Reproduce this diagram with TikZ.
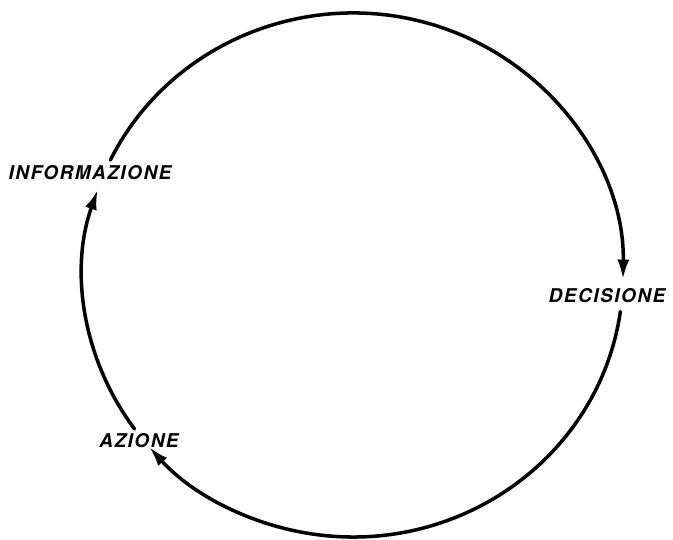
\documentclass[tikz,border=0pt]{standalone}
\usepackage{fontspec}
\newfontfamily\handfont[LetterSpace=8.0]{TeX Gyre Heros}
\usetikzlibrary{calc,arrows.meta}
\tikzset{
  cycarc/.style={line width=2pt,line cap=round},
  cyctip/.style={-{Latex[length=4mm,width=2.4mm]}},
  steplabel/.style={font=\handfont\bfseries\itshape\fontsize{10.8}{13}\selectfont,inner sep=1pt}
}

\begin{document}
\begin{tikzpicture}[x=0.02cm,y=0.02cm]
\useasboundingbox (0,0) rectangle (673,540);
\coordinate (c) at (353,265);
\node[steplabel] (info) at (90,367) {INFORMAZIONE};
\node[steplabel] (dec) at (607,244) {DECISIONE};
\node[steplabel] (az) at (139,99) {AZIONE};
\coordinate (infoOut) at ($(c)+(154:270 and 262)$);
\coordinate (decOut) at ($(c)+(-8:270 and 262)$);
\coordinate (azOut) at ($(c)+(216:270 and 262)$);
\draw[cycarc,cyctip] (infoOut) arc[start angle=154,end angle=-1,x radius=270,y radius=262];
\draw[cycarc,cyctip] (decOut) arc[start angle=-8,end angle=-139,x radius=270,y radius=262];
\draw[cycarc,cyctip] (azOut) arc[start angle=216,end angle=161,x radius=270,y radius=262];
\end{tikzpicture}
\end{document}
